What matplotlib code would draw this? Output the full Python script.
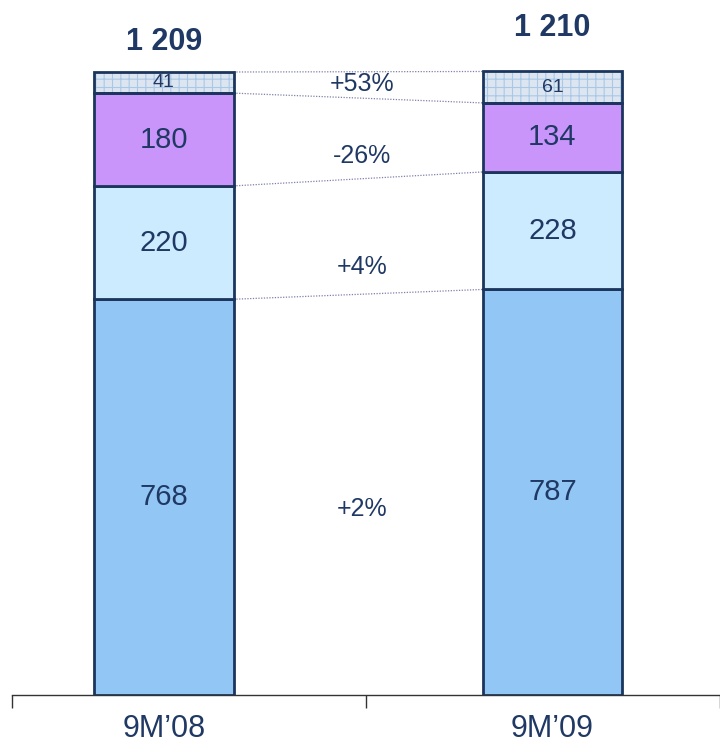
import matplotlib
matplotlib.use("Agg")
import matplotlib.pyplot as plt
import numpy as np

plt.rcParams['font.family'] = ['Liberation Sans', 'DejaVu Sans']
plt.rcParams['hatch.linewidth'] = 0.8

categories = ["9M\u201908", "9M\u201909"]
seg_bottom = [768, 787]      # bottom segment
seg_second = [220, 228]
seg_third = [180, 134]
seg_top = [41, 61]
totals = ["1 209", "1 210"]
changes = ["+2%", "+4%", "-26%", "+53%"]

segments = [seg_bottom, seg_second, seg_third, seg_top]
colors = ["#92C6F4", "#CDEBFE", "#C995FA", "#DDE6F0"]
edge = "#1B355C"
text_c = "#1F3864"

fig = plt.figure(figsize=(7.2, 7.45), dpi=100)
W, H = 720, 745
ax = fig.add_axes([12 / W, 50 / H, 708 / W, 695 / H])
unit = 357.0
ax.set_xlim(-0.5, -0.5 + 708 / unit)
ymax = 695 / 623 * 1209
ax.set_ylim(0, ymax)
px = ymax / 695.0  # data units per pixel

xpos = np.array([(165 - 12) / unit - 0.5, (557 - 12) / unit - 0.5])
width = 141 / unit

# small pixel offsets for the change labels (downwards)
change_shift_px = [14, 30, 18, -1]
total_shift_px = [30, 43]

bottoms = np.zeros(2)
tops_list = []
for i, (vals, col) in enumerate(zip(segments, colors)):
    vals = np.array(vals, dtype=float)
    if i == 3:
        ax.bar(xpos, vals, width, bottom=bottoms, color=col, edgecolor="#A9C8E8",
               hatch="++", linewidth=0, zorder=2)
        ax.bar(xpos, vals, width, bottom=bottoms, fill=False, edgecolor=edge,
               linewidth=2, zorder=3)
    else:
        ax.bar(xpos, vals, width, bottom=bottoms, color=col, edgecolor=edge,
               linewidth=2, zorder=3)
    for j in range(2):
        fs = 14 if i == 3 else 21
        ax.text(xpos[j], bottoms[j] + vals[j] / 2, f"{int(vals[j])}", ha="center",
                va="center", fontsize=fs, color=text_c, zorder=4)
    tops_list.append(bottoms + vals)
    mid = (bottoms + vals / 2).mean() - change_shift_px[i] * px
    ax.text(0.49, mid, changes[i], ha="center", va="center", fontsize=18,
            color=text_c, zorder=4)
    bottoms = bottoms + vals

# connector dotted lines
for t in tops_list:
    ax.plot([xpos[0] + width / 2, xpos[1] - width / 2], [t[0], t[1]], ls=(0, (1, 1.2)),
            color="#8080A8", lw=0.9, zorder=1)

for j in range(2):
    ax.text(xpos[j], bottoms[j] + total_shift_px[j] * px, totals[j], ha="center",
            va="center", fontsize=22, fontweight="bold", color=text_c)

for s in ["top", "right", "left"]:
    ax.spines[s].set_visible(False)
ax.spines["bottom"].set_color("#333333")
ax.spines["bottom"].set_linewidth(1.0)
ax.set_yticks([])
ax.set_xticks(xpos)
ax.set_xticklabels(categories, fontsize=22, color=text_c)
ax.tick_params(axis="x", which="major", length=0, pad=14)
ax.set_xticks([-0.5, 0.5, 1.5], minor=True)
ax.tick_params(axis="x", which="minor", length=9, width=1, color="#333333")

fig.savefig("out.png", dpi=100)
